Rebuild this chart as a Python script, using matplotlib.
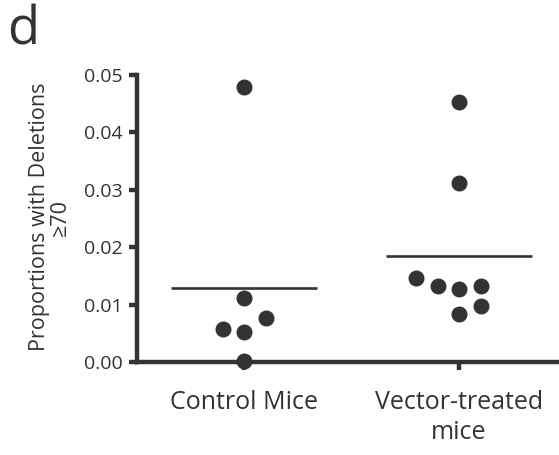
import matplotlib
matplotlib.use("Agg")
import matplotlib.pyplot as plt
import numpy as np

categories = ["Control Mice", "Vector-treated\nmice"]
control_values = [0.0479, 0.0112, 0.0077, 0.0057, 0.0052, 0.0001]
vector_values = [0.0453, 0.0311, 0.0147, 0.0132, 0.0127, 0.0132, 0.0098, 0.0083]
yticks = [0.00, 0.01, 0.02, 0.03, 0.04, 0.05]
ylabel = "Proportions with Deletions\n\u226570"
panel_label = "d"

# swarm slot layout (positions, not data)
control_slots = [0, 0, 1, -1, 0, 0]
vector_slots = [0, 0, -2, -1, 0, 1, 1, 0]
slot_width = 0.1

FONT = ["Open Sans", "DejaVu Sans"]
plt.rcParams["font.family"] = FONT
ink = "#333333"

fig = plt.figure(figsize=(5.59, 4.55), dpi=100)
ax = fig.add_axes([0.245, 0.2044, 0.755, 0.6308])

groups = [control_values, vector_values]
slots = [control_slots, vector_slots]
for i, (vals, sl) in enumerate(zip(groups, slots)):
    xs = i + np.array(sl) * slot_width
    ax.plot(xs, vals, "o", color=ink, markersize=10.5, clip_on=False, zorder=3)
    m = np.mean(vals)
    ax.plot([i - 0.34, i + 0.34], [m, m], color=ink, lw=1.9, solid_capstyle="butt", clip_on=False)

ax.set_xlim(-0.498, 1.465)
ax.set_ylim(0, 0.05)
ax.set_yticks(yticks)
ax.set_yticklabels([f"{t:.2f}" for t in yticks], fontsize=14, color=ink)
ax.set_xticks([0, 1])
ax.set_xticklabels(categories, fontsize=18, color=ink, linespacing=1.3)
for s in ["top", "right"]:
    ax.spines[s].set_visible(False)
for s in ["left", "bottom"]:
    ax.spines[s].set_linewidth(3.2)
    ax.spines[s].set_color(ink)
ax.tick_params(axis="both", width=3.2, length=6, color=ink)
ax.tick_params(axis="y", pad=4)
ax.tick_params(axis="x", pad=14)

fig.text(0.09, 0.523, ylabel, rotation=90, ha="center", va="center",
         fontsize=15.5, color=ink, multialignment="center", linespacing=1.0)
fig.text(0.012, 0.992, panel_label, fontsize=38, color=ink, ha="left", va="top")

fig.savefig("out.png", dpi=100)
